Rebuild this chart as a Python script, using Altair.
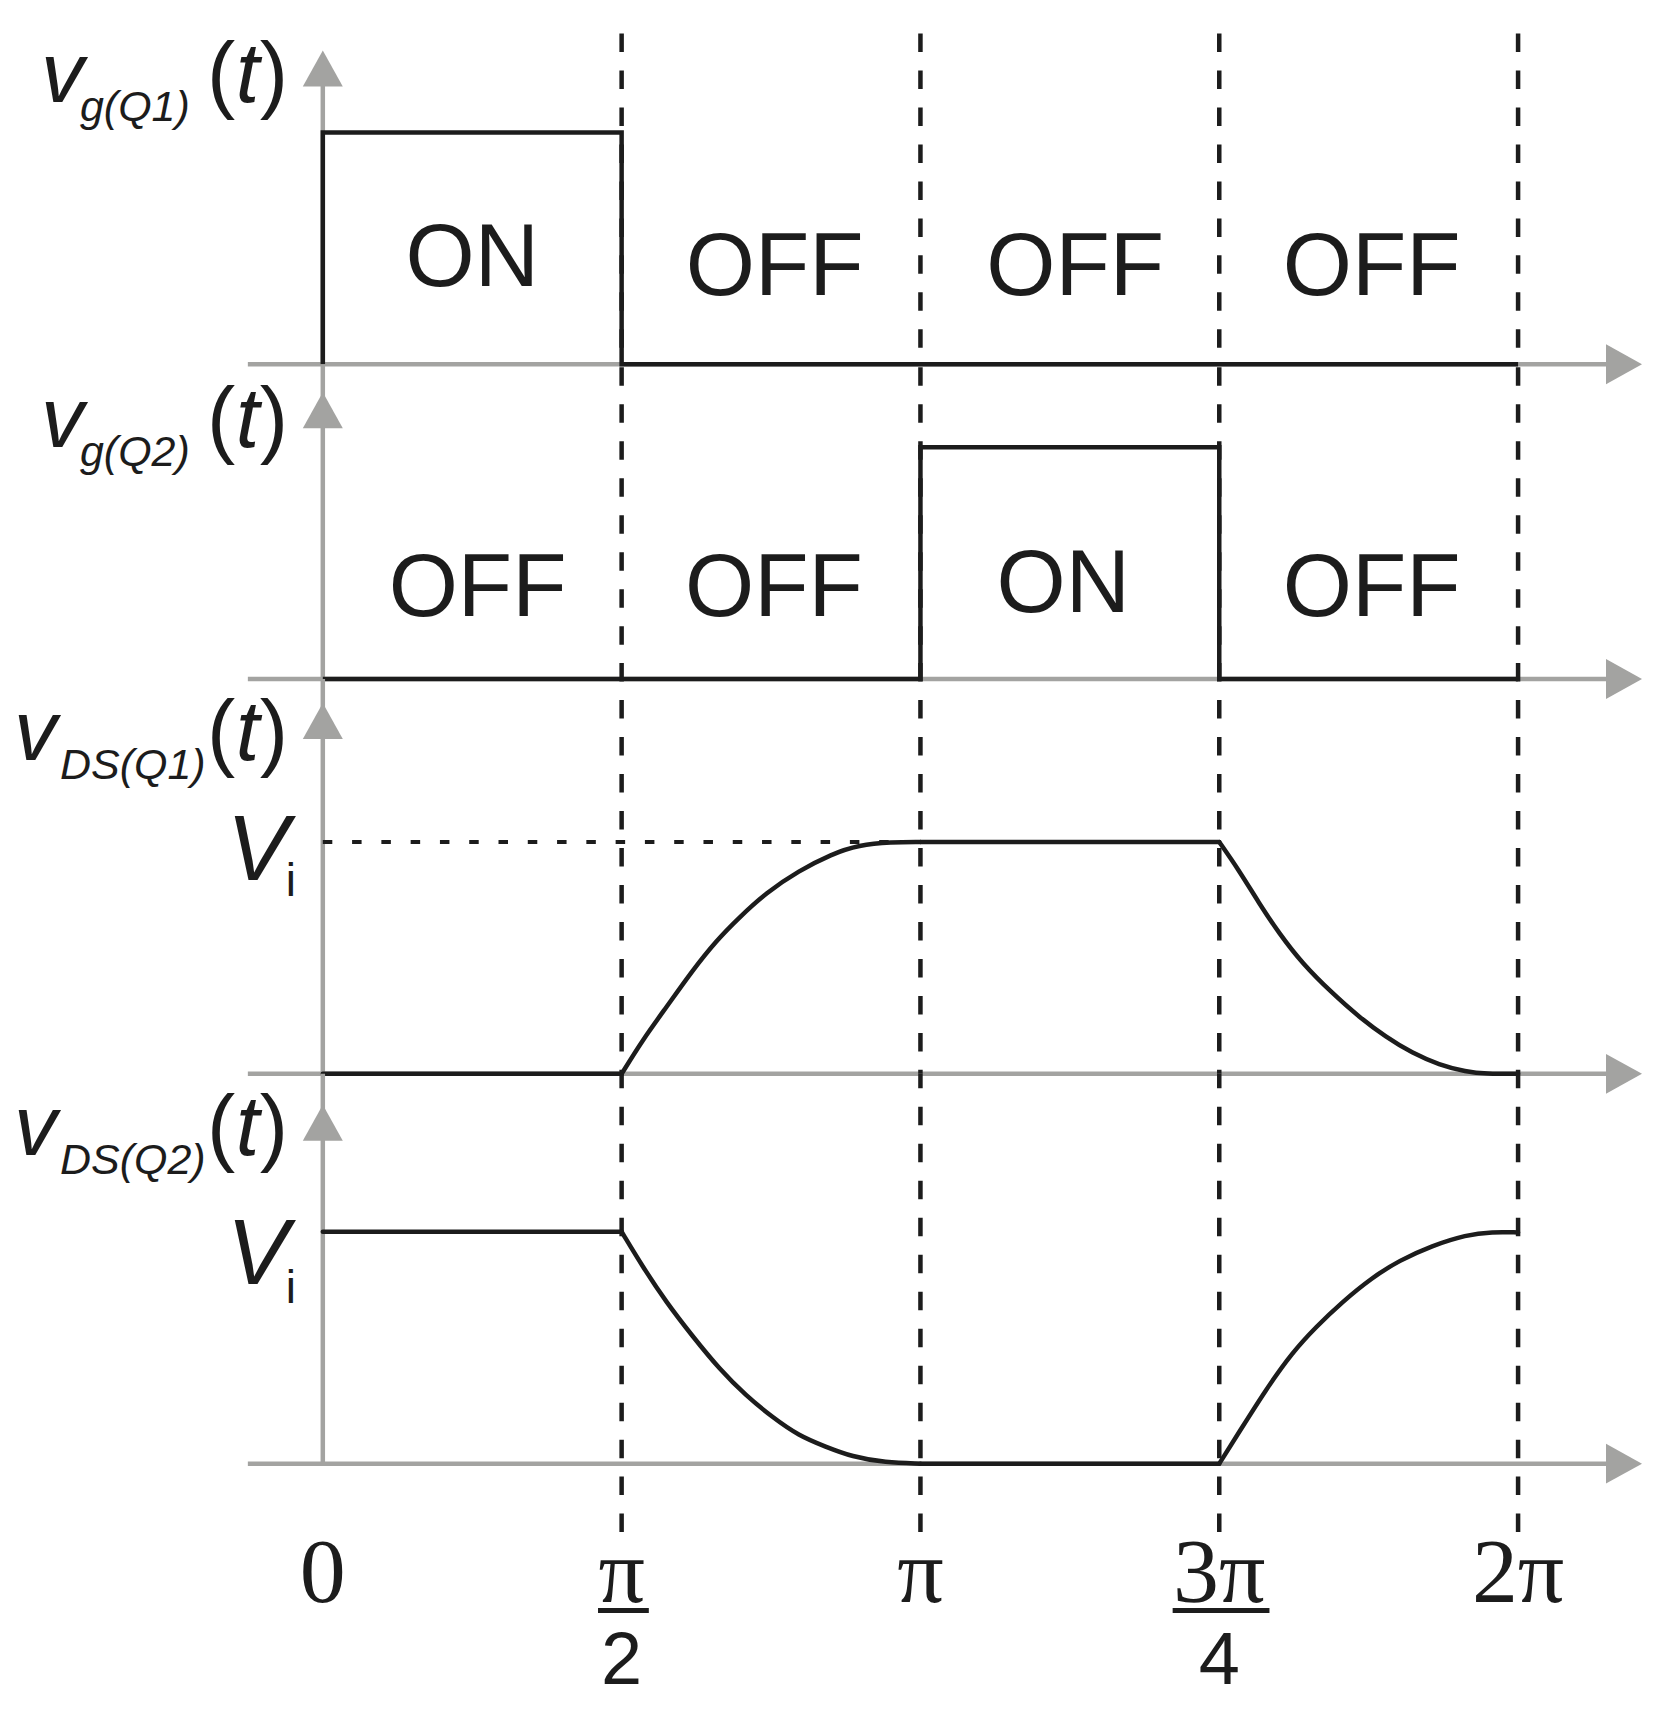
import altair as alt
import pandas as pd

# ---------------- data ----------------
# x is the phase in units of pi/2 (0 .. 4  ->  0 .. 2pi); y is in units of the level (Vi = 1)
TICK_POS = [0, 1, 2, 3, 4]
TICK_NUMERATOR = ["0", "π", "π", "3π", "2π"]
TICK_DENOMINATOR = ["", "2", "", "4", ""]

VG1_X = [0, 0, 1, 1, 4]
VG1_Y = [0, 1, 1, 0, 0]
VG2_X = [0, 2, 2, 3, 3, 4]
VG2_Y = [0, 0, 1, 1, 0, 0]

STATE_Q1 = ["ON", "OFF", "OFF", "OFF"]
STATE_Q1_X = [0.5, 1.512, 2.518, 3.51]
STATE_Q1_Y = [0.336, 0.297, 0.297, 0.297]
STATE_Q2 = ["OFF", "OFF", "ON", "OFF"]
STATE_Q2_X = [0.518, 1.51, 2.478, 3.51]
STATE_Q2_Y = [0.272, 0.272, 0.289, 0.272]

VDS1_RISE_X = [1.0, 1.07, 1.15, 1.237, 1.317, 1.393, 1.483, 1.593, 1.703, 1.793, 1.903, 2.0]
VDS1_RISE_Y = [0.0, 0.146, 0.288, 0.446, 0.575, 0.674, 0.781, 0.876, 0.948, 0.987, 1.0, 1.0]
VDS1_FALL_X = [3.0, 3.067, 3.134, 3.201, 3.278, 3.378, 3.468, 3.558, 3.645, 3.736, 3.826, 3.893, 4.0]
VDS1_FALL_Y = [1.0, 0.876, 0.734, 0.605, 0.476, 0.348, 0.245, 0.159, 0.090, 0.039, 0.009, 0.0, 0.0]
VDS2_FALL_X = [1.0, 1.07, 1.15, 1.237, 1.327, 1.417, 1.503, 1.593, 1.683, 1.77, 1.883, 2.0]
VDS2_FALL_Y = [1.0, 0.85, 0.695, 0.55, 0.408, 0.292, 0.202, 0.12, 0.073, 0.03, 0.004, 0.0]
VDS2_RISE_X = [3.0, 3.067, 3.157, 3.244, 3.324, 3.411, 3.512, 3.602, 3.712, 3.826, 3.913, 4.0]
VDS2_RISE_Y = [0.0, 0.137, 0.321, 0.479, 0.59, 0.697, 0.803, 0.876, 0.94, 0.987, 1.0, 0.997]

Y_LABEL_MAIN = ["v", "v", "v", "v"]
Y_LABEL_SUB = ["g(Q1)", "g(Q2)", "DS(Q1)", "DS(Q2)"]
LEVEL_LABEL = ("V", "i")

# ---------------- layout / style ----------------
GREY = "#a3a3a1"
INK = "#1c1c1c"
SANS = "Liberation Sans"
SERIF = "Liberation Serif"
LW = 4.5

PX_X = 299.0          # pixels per pi/2
PX_Y = 232.0          # pixels per unit level
X0_PX = 315.0         # pixels from chart left edge to t = 0
WIDTH = 1650
X_DOMAIN = [-X0_PX / PX_X, (WIDTH - X0_PX) / PX_X]


def ux(px_page):
    return (px_page - 323.0) / PX_X


def uy(px):
    return px / PX_Y


PANELS = [
    dict(below=0, above=356, tip=314, lab=262, vx=41, subx=80, dtop=331, doff=0, dbot=0),
    dict(below=0, above=315, tip=287, lab=232, vx=41, subx=80, dtop=315, doff=34, dbot=0),
    dict(below=0, above=395, tip=371, lab=314, vx=14, subx=60, dtop=395, doff=16, dbot=0),
    dict(below=242, above=390, tip=359, lab=309, vx=14, subx=60, dtop=390, doff=4, dbot=-69),
]

AX_LEFT = ux(248)
AX_TIP = ux(1643)

VERT_ARROW = "M0,-0.9L1,0.9L-1,0.9Z"
HORZ_ARROW = "M0.9,0L-0.9,1L-0.9,-1Z"


def pieces(parts):
    rows = []
    for p, (xs_, ys_) in enumerate(parts):
        for i, (a, b) in enumerate(zip(xs_, ys_)):
            rows.append({"x": a, "y": b, "piece": p, "i": i})
    return pd.DataFrame(rows)


def make_panel(k):
    P = PANELS[k]
    xs = alt.Scale(domain=X_DOMAIN, nice=False, zero=False)
    ys = alt.Scale(domain=[-uy(P["below"]), uy(P["above"])], nice=False, zero=False)
    X = lambda f: alt.X(f"{f}:Q", scale=xs, axis=None)
    Y = lambda f: alt.Y(f"{f}:Q", scale=ys, axis=None)
    layers = []

    # grey axes
    hdf = pd.DataFrame({"x": [AX_LEFT], "x2": [AX_TIP], "y": [0.0]})
    layers.append(alt.Chart(hdf).mark_rule(color=GREY, strokeWidth=LW, x2Offset=-20).encode(
        x=X("x"), x2="x2:Q", y=Y("y")))
    layers.append(alt.Chart(hdf).mark_point(shape=HORZ_ARROW, filled=True, size=1600, color=GREY,
                                            opacity=1, strokeWidth=0, xOffset=-18).encode(
        x=X("x2"), y=Y("y")))
    vtop = uy(P["tip"]) if k == 0 else uy(P["above"])
    vdf = pd.DataFrame({"x": [0.0], "y": [0.0], "y2": [vtop], "tip": [uy(P["tip"])]})
    rule_kw = dict(y2Offset=20) if k == 0 else {}
    layers.append(alt.Chart(vdf).mark_rule(color=GREY, strokeWidth=LW, **rule_kw).encode(
        x=X("x"), y=Y("y"), y2="y2:Q"))
    layers.append(alt.Chart(vdf).mark_point(shape=VERT_ARROW, filled=True, size=1600, color=GREY,
                                            opacity=1, strokeWidth=0, yOffset=18).encode(
        x=X("x"), y=Y("tip")))

    # dashed phase markers
    ddf = pd.DataFrame({"x": TICK_POS[1:], "y": uy(P["dtop"]), "y2": uy(P["dbot"])})
    layers.append(alt.Chart(ddf).mark_rule(color=INK, strokeWidth=LW, strokeDash=[18.5, 18.5],
                                           strokeDashOffset=P["doff"]).encode(
        x=X("x"), y=Y("y"), y2="y2:Q"))

    # signals
    if k == 0 or k == 1:
        sx, sy = (VG1_X, VG1_Y) if k == 0 else (VG2_X, VG2_Y)
        sdf = pd.DataFrame({"x": sx, "y": sy, "i": range(len(sx))})
        layers.append(alt.Chart(sdf).mark_line(color=INK, strokeWidth=LW, strokeJoin="miter",
                                               strokeCap="butt").encode(
            x=X("x"), y=Y("y"), order="i:Q"))
        st, stx, sty = (STATE_Q1, STATE_Q1_X, STATE_Q1_Y) if k == 0 else (STATE_Q2, STATE_Q2_X, STATE_Q2_Y)
        tdf = pd.DataFrame({"x": stx, "y": sty, "t": st})
        layers.append(alt.Chart(tdf).mark_text(font=SANS, fontSize=89, color=INK, align="center",
                                               baseline="alphabetic").encode(
            x=X("x"), y=Y("y"), text="t:N"))
    else:
        if k == 2:
            parts = [([0, 1], [0, 0]), (VDS1_RISE_X, VDS1_RISE_Y), ([2, 3], [1, 1]),
                     (VDS1_FALL_X, VDS1_FALL_Y)]
            vy, iy = 880, 896
            odf = pd.DataFrame({"x": [0.0], "x2": [2.0], "y": [1.0]})
            layers.append(alt.Chart(odf).mark_rule(color=INK, strokeWidth=4, strokeDash=[9.5, 19.8]).encode(
                x=X("x"), x2="x2:Q", y=Y("y")))
            base = 1074
        else:
            parts = [([0, 1], [1, 1]), (VDS2_FALL_X, VDS2_FALL_Y), ([2, 3], [0, 0]),
                     (VDS2_RISE_X, VDS2_RISE_Y)]
            vy, iy = 1284, 1303
            base = 1464
        sdf = pieces(parts)
        layers.append(alt.Chart(sdf).mark_line(color=INK, strokeWidth=LW, interpolate="basis",
                                               strokeCap="round", strokeJoin="round").encode(
            x=X("x"), y=Y("y"), detail="piece:N", order="i:Q"))
        ldf = pd.DataFrame({"x": [ux(227)], "y": [uy(base - vy)], "t": [LEVEL_LABEL[0]]})
        layers.append(alt.Chart(ldf).mark_text(font=SANS, fontSize=93, fontStyle="italic", color=INK,
                                               align="left", baseline="alphabetic").encode(
            x=X("x"), y=Y("y"), text="t:N"))
        idf = pd.DataFrame({"x": [ux(286)], "y": [uy(base - iy)], "t": [LEVEL_LABEL[1]]})
        layers.append(alt.Chart(idf).mark_text(font=SANS, fontSize=46, color=INK,
                                               align="left", baseline="alphabetic").encode(
            x=X("x"), y=Y("y"), text="t:N"))

    # y-axis label  v_sub(t)
    ly = uy(P["lab"])
    mdf = pd.DataFrame({"x": [ux(P["vx"])], "y": [ly], "t": [Y_LABEL_MAIN[k]]})
    layers.append(alt.Chart(mdf).mark_text(font=SANS, fontSize=86, fontStyle="italic", color=INK,
                                           align="left", baseline="alphabetic").encode(
        x=X("x"), y=Y("y"), text="t:N"))
    sbdf = pd.DataFrame({"x": [ux(P["subx"])], "y": [ly], "t": [Y_LABEL_SUB[k]]})
    layers.append(alt.Chart(sbdf).mark_text(font=SANS, fontSize=43, fontStyle="italic", color=INK,
                                            align="left", baseline="alphabetic", dy=19).encode(
        x=X("x"), y=Y("y"), text="t:N"))
    pdf = pd.DataFrame({"x": [ux(207), ux(260)], "y": [ly, ly], "t": ["(", ")"]})
    layers.append(alt.Chart(pdf).mark_text(font=SANS, fontSize=85, color=INK,
                                           align="left", baseline="alphabetic").encode(
        x=X("x"), y=Y("y"), text="t:N"))
    tdf2 = pd.DataFrame({"x": [ux(236)], "y": [ly], "t": ["t"]})
    layers.append(alt.Chart(tdf2).mark_text(font=SANS, fontSize=85, fontStyle="italic", color=INK,
                                            align="left", baseline="alphabetic").encode(
        x=X("x"), y=Y("y"), text="t:N"))

    # phase tick labels under the last panel
    if k == 3:
        ndf = pd.DataFrame({"x": TICK_POS, "y": uy(-138), "t": TICK_NUMERATOR})
        layers.append(alt.Chart(ndf).mark_text(font=SERIF, fontSize=92, color=INK, align="center",
                                               baseline="alphabetic").encode(
            x=X("x"), y=Y("y"), text="t:N"))
        frac = [(p, n, d) for p, n, d in zip(TICK_POS, TICK_NUMERATOR, TICK_DENOMINATOR) if d]
        half = [0.085 if len(n) == 1 else 0.162 for _, n, _ in frac]
        bdf = pd.DataFrame({"x": [p - h + 0.006 for (p, _, _), h in zip(frac, half)],
                            "x2": [p + h + 0.006 for (p, _, _), h in zip(frac, half)],
                            "y": uy(-147)})
        layers.append(alt.Chart(bdf).mark_rule(color=INK, strokeWidth=5).encode(
            x=X("x"), x2="x2:Q", y=Y("y")))
        ddf2 = pd.DataFrame({"x": [p for p, _, _ in frac], "y": uy(-221), "t": [d for _, _, d in frac]})
        layers.append(alt.Chart(ddf2).mark_text(font=SANS, fontSize=74, color=INK, align="center",
                                                baseline="alphabetic").encode(
            x=X("x"), y=Y("y"), text="t:N"))

    return alt.layer(*layers).properties(width=WIDTH, height=P["below"] + P["above"])


chart = alt.vconcat(*[make_panel(k) for k in range(4)], spacing=0, bounds="flush").properties(
    padding=0, background="white"
).configure_view(stroke=None)

chart.save("out.html", embed_options={"renderer": "svg", "actions": False})
